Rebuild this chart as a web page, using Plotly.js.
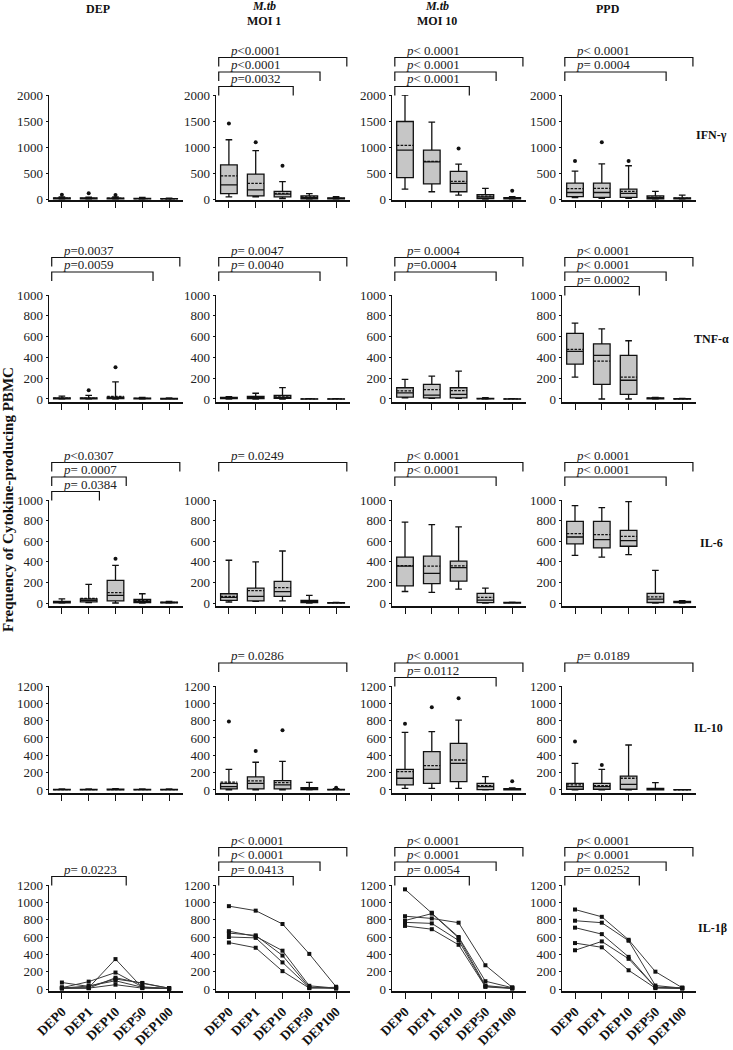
<!DOCTYPE html>
<html><head><meta charset="utf-8">
<script src="https://cdn.plot.ly/plotly-3.0.1.min.js"></script>
<style>body{margin:0;background:#fff}#chart{width:733px;height:1050px}</style>
</head><body><div id="chart"></div>
<script>
// ---------- DATA ----------
const categories = ['DEP0', 'DEP1', 'DEP10', 'DEP50', 'DEP100'];
const cytokines = ['IFN-γ', 'TNF-α', 'IL-6', 'IL-10', 'IL-1β'];

// box stats per category: [lowerfence, q1, median, q3, upperfence, mean]
const IFN_DEP   = [[0,3,8,20,40,15],[0,3,8,20,35,14],[0,3,8,18,40,15],[0,2,5,12,30,9],[0,1,3,8,15,5]];
const IFN_MOI1  = [[40,105,270,655,1140,445],[40,60,175,480,930,300],[10,40,95,145,335,110],[0,5,25,60,105,40],[0,2,8,20,45,12]];
const IFN_MOI10 = [[190,410,940,1490,2000,1030],[140,290,715,940,1480,725],[75,140,300,530,670,340],[0,10,40,85,205,55],[0,3,12,25,45,18]];
const IFN_PPD   = [[25,45,125,305,535,200],[15,30,125,305,675,205],[15,30,110,190,640,145],[0,5,20,60,145,35],[0,2,8,20,75,15]];

const TNF_DEP   = [[0,1,4,10,28,8],[0,1,4,10,35,9],[0,3,10,18,165,25],[0,1,3,8,15,5],[0,0,2,6,10,3]];
const TNF_MOI1  = [[0,3,8,15,22,10],[0,3,12,25,55,18],[0,5,15,35,110,28],[0,0,1,2,3,1],[0,0,1,2,3,1]];
const TNF_MOI10 = [[12,18,58,108,188,78],[5,10,38,140,220,90],[5,10,45,108,268,80],[0,1,3,6,12,4],[0,0,1,2,3,1]];
const TNF_PPD   = [[210,335,458,630,730,478],[0,140,420,530,675,365],[0,45,180,420,560,210],[0,2,5,10,15,7],[0,0,1,3,5,2]];

const IL6_DEP   = [[0,2,8,15,40,12],[5,12,25,40,180,45],[0,20,75,220,365,100],[0,5,18,35,90,25],[0,1,3,8,15,5]];
const IL6_MOI1  = [[10,25,55,90,415,65],[15,20,65,145,400,120],[20,65,110,210,505,150],[0,3,10,25,75,18],[0,0,1,3,5,2]];
const IL6_MOI10 = [[112,167,359,446,785,362],[103,189,288,455,760,359],[135,212,343,407,740,360],[0,3,29,93,144,54],[0,0,2,5,8,3]];
const IL6_PPD   = [[462,575,641,792,945,673],[446,535,615,792,926,663],[470,551,606,705,984,647],[0,5,38,93,317,60],[0,3,8,15,22,10]];

const IL10_DEP   = [[0,1,3,6,12,4],[0,1,3,6,12,4],[0,1,4,8,15,5],[0,1,3,6,12,4],[0,1,3,6,12,4]];
const IL10_MOI1  = [[0,12,38,77,238,90],[0,12,75,150,320,105],[0,12,58,108,330,85],[0,3,10,27,88,20],[0,0,2,6,15,5]];
const IL10_MOI10 = [[19,58,135,238,665,212],[19,77,238,442,673,281],[19,96,308,538,805,346],[0,4,38,77,154,50],[0,1,5,15,25,10]];
const IL10_PPD   = [[0,8,38,77,308,58],[0,8,38,77,238,50],[0,8,65,160,519,135],[0,2,8,19,85,12],[0,0,1,3,5,2]];

// outliers: [category index, value]
const IFN_DEP_OUT   = [[0,80],[1,110],[2,75]];
const IFN_MOI1_OUT  = [[0,1450],[1,1090],[2,640]];
const IFN_MOI10_OUT = [[2,970],[4,160]];
const IFN_PPD_OUT   = [[0,730],[1,1090],[2,730]];
const TNF_DEP_OUT   = [[1,85],[2,305]];
const IL6_DEP_OUT   = [[2,430]];
const IL10_MOI1_OUT = [[0,790],[1,450],[2,690],[4,25]];
const IL10_MOI10_OUT= [[0,765],[1,954],[2,1058],[4,100]];
const IL10_PPD_OUT  = [[0,558],[1,288]];

// IL-1beta individual donors (DEP0..DEP100)
const IL1B_DEP = [[75,30,115,70,8],[15,85,190,25,5],[10,15,345,15,5],[20,10,130,65,10],[10,35,95,20,5],[5,10,50,10,5]];
const IL1B_MOI1 = [[956,904,750,405,26],[667,607,442,37,10],[645,619,386,20,15],[600,590,307,15,5],[536,476,206,10,20]];
const IL1B_MOI10 = [[1150,880,600,90,15],[840,814,765,274,19],[790,870,590,40,10],[769,757,560,30,10],[728,690,510,25,5]];
const IL1B_PPD = [[917,833,568,200,15],[788,765,557,40,10],[708,633,371,20,10],[530,481,216,10,5],[447,549,348,20,15]];

// p-value brackets: [label, target category index, stacking level]
const P_IFN  = [[], [['<0.0001',4,2],['<0.0001',3,1],['=0.0032',2,0]], [['< 0.0001',4,2],['< 0.0001',3,1],['< 0.0001',2,0]], [['< 0.0001',4,2],['= 0.0004',3,1]]];
const P_TNF  = [[['=0.0037',4,2],['=0.0059',3,1]], [['= 0.0047',4,2],['= 0.0040',3,1]], [['= 0.0004',4,2],['=0.0004',3,1]], [['< 0.0001',4,2],['< 0.0001',3,1],['= 0.0002',2,0]]];
const P_IL6  = [[['<0.0307',4,2],['= 0.0007',2,1],['= 0.0384',1,0]], [['= 0.0249',4,2]], [['< 0.0001',4,2],['< 0.0001',3,1]], [['< 0.0001',4,2],['< 0.0001',3,1]]];
const P_IL10 = [[], [['= 0.0286',4,1]], [['< 0.0001',4,1],['= 0.0112',3,0]], [['= 0.0189',4,1]]];
const P_IL1B = [[['= 0.0223',2,0]], [['< 0.0001',4,2],['< 0.0001',3,1],['= 0.0413',2,0]], [['< 0.0001',4,2],['< 0.0001',3,1],['= 0.0054',2,0]], [['< 0.0001',4,2],['< 0.0001',3,1],['= 0.0252',2,0]]];

// ---------- LAYOUT ----------
const W = 733, H = 1050;
const colLeft = [48.5, 215.5, 391.6, 561.6], colW = 134;
const rowTop = [95, 295, 500, 686, 885], rowBot = [200, 402, 606, 793, 991];
const yRanges = [[-19, 2000], [-29, 1000], [-29, 1000], [-35, 1200], [-23, 1200]];
const yTicks = [[0,500,1000,1500,2000],[0,200,400,600,800,1000],[0,200,400,600,800,1000],[0,200,400,600,800,1000,1200],[0,200,400,600,800,1000,1200]];

const boxData = [
  [IFN_DEP, IFN_MOI1, IFN_MOI10, IFN_PPD],
  [TNF_DEP, TNF_MOI1, TNF_MOI10, TNF_PPD],
  [IL6_DEP, IL6_MOI1, IL6_MOI10, IL6_PPD],
  [IL10_DEP, IL10_MOI1, IL10_MOI10, IL10_PPD]
];
const outData = [
  [IFN_DEP_OUT, IFN_MOI1_OUT, IFN_MOI10_OUT, IFN_PPD_OUT],
  [TNF_DEP_OUT, [], [], []],
  [IL6_DEP_OUT, [], [], []],
  [[], IL10_MOI1_OUT, IL10_MOI10_OUT, IL10_PPD_OUT]
];
const lineData = [IL1B_DEP, IL1B_MOI1, IL1B_MOI10, IL1B_PPD];
const pData = [P_IFN, P_TNF, P_IL6, P_IL10, P_IL1B];
const xIdx = categories.map((_, i) => i);

const FONT = 'Liberation Serif, Times New Roman, serif';
const traces = [];
const layout = {
  width: W, height: H, margin: {l:0, r:0, t:0, b:0}, showlegend: false,
  paper_bgcolor: '#fff', plot_bgcolor: 'rgba(0,0,0,0)',
  font: {family: FONT, color: '#222'},
  shapes: [], annotations: []
};

for (let r = 0; r < 5; r++) {
  for (let c = 0; c < 4; c++) {
    const n = r * 4 + c + 1;
    const id = n === 1 ? '' : String(n);
    layout['xaxis' + id] = {
      domain: [colLeft[c] / W, (colLeft[c] + colW) / W], anchor: 'y' + id,
      range: [-0.5, 4.5], tickvals: xIdx, ticktext: categories,
      showticklabels: r === 4, tickangle: -45,
      ticks: 'outside', ticklen: 6, tickcolor: '#111', tickwidth: 1,
      showline: true, linecolor: '#111', linewidth: 1.5,
      showgrid: false, zeroline: false, fixedrange: true,
      tickfont: {family: FONT, size: 13.5, weight: 'bold', color: '#111'}
    };
    layout['yaxis' + id] = {
      domain: [1 - rowBot[r] / H, 1 - rowTop[r] / H], anchor: 'x' + id,
      range: yRanges[r], tickvals: yTicks[r],
      ticks: 'outside', ticklen: 2, tickcolor: '#111',
      showline: true, linecolor: '#111', linewidth: 1,
      showgrid: false, zeroline: false, fixedrange: true,
      tickfont: {family: FONT, size: 13, color: '#222'}
    };

    if (r < 4) {
      const s = boxData[r][c];
      traces.push({
        type: 'box', xaxis: 'x' + id, yaxis: 'y' + id, x: xIdx,
        lowerfence: s.map(v => v[0]), q1: s.map(v => v[1]), median: s.map(v => v[2]),
        q3: s.map(v => v[3]), upperfence: s.map(v => v[4]), mean: s.map(v => v[5]),
        boxmean: true, boxpoints: false, width: 0.62, whiskerwidth: 0.4,
        fillcolor: '#c6c6c6', line: {color: '#111', width: 1.3}, hoverinfo: 'skip'
      });
      const o = outData[r][c];
      if (o.length) {
        traces.push({
          type: 'scatter', mode: 'markers', xaxis: 'x' + id, yaxis: 'y' + id,
          x: o.map(p => p[0]), y: o.map(p => p[1]),
          marker: {symbol: 'circle', size: 4, color: '#111'}, hoverinfo: 'skip', cliponaxis: false
        });
      }
    } else {
      lineData[c].forEach(series => {
        traces.push({
          type: 'scatter', mode: 'lines+markers', xaxis: 'x' + id, yaxis: 'y' + id,
          x: xIdx, y: series,
          line: {color: '#3a3a3a', width: 1},
          marker: {symbol: 'square', size: 4, color: '#111'}, hoverinfo: 'skip', cliponaxis: false
        });
      });
    }

    // p-value brackets
    pData[r][c].forEach(b => {
      const [label, target, level] = b;
      const yl = rowTop[r] - (8.5 + 14.5 * level);
      const yb = yl + 9;
      const pl = 1 - yl / H, pb = 1 - yb / H;
      const x0 = -0.38, x1 = target + 0.4;
      layout.shapes.push({
        type: 'path', xref: 'x' + id, yref: 'paper',
        path: `M${x0},${pb} L${x0},${pl} L${x1},${pl} L${x1},${pb}`,
        line: {color: '#111', width: 1.2}
      });
      layout.annotations.push({
        xref: 'x' + id, yref: 'paper', x: 0, y: pl, xanchor: 'left', yanchor: 'bottom',
        showarrow: false, borderpad: 0, yshift: -1,
        text: '<i>p</i>' + label.replace('<', '&lt;'),
        font: {family: FONT, size: 13, color: '#222'}
      });
    });
  }
}

function paperAnn(text, xpx, ypx, size, extra) {
  layout.annotations.push(Object.assign({
    xref: 'paper', yref: 'paper', x: xpx / W, y: 1 - ypx / H,
    xanchor: 'center', yanchor: 'middle', showarrow: false, text: text,
    font: {family: FONT, size: size, color: '#111', weight: 'bold'}
  }, extra || {}));
}
// column headers
paperAnn('DEP', 98, 9, 12);
paperAnn('<i>M.tb</i>', 264, 6, 12);
paperAnn('MOI 1', 264, 21, 12);
paperAnn('<i>M.tb</i>', 437, 6, 12);
paperAnn('MOI 10', 437, 21, 12);
paperAnn('PPD', 608, 9, 12);
// row labels (right-aligned near the page edge)
const rowLabelPos = [[729, 135], [731, 339], [725, 543], [725, 728], [729, 928]];
cytokines.forEach((t, i) => paperAnn(t, rowLabelPos[i][0], rowLabelPos[i][1], 12, {xanchor: 'right'}));
// y-axis title
paperAnn('Frequency of Cytokine-producing PBMC', 8, 500, 15, {textangle: -90});

Plotly.newPlot('chart', traces, layout, {staticPlot: true, displayModeBar: false});
</script>
</body></html>
